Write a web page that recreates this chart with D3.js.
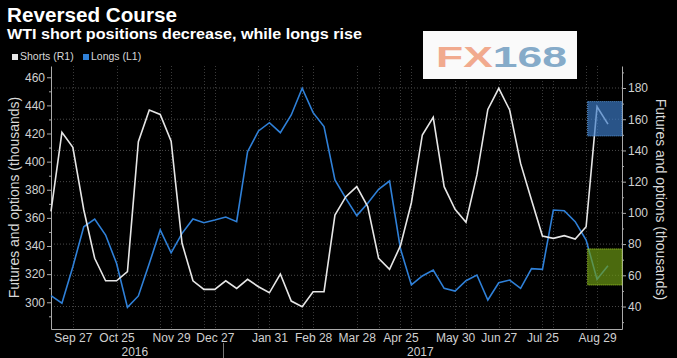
<!DOCTYPE html>
<html><head><meta charset="utf-8">
<script src="https://cdn.jsdelivr.net/npm/d3@7"></script>
<style>
html,body{margin:0;padding:0;background:#000;}
svg{display:block;}
text{font-family:"Liberation Sans",Arial,sans-serif;}
</style></head>
<body>
<svg id="chart" width="677" height="358"></svg>
<script>
// ---- data ----
const startDate = "2016-09-13"; // first weekly observation
const shorts = [101,151.6,142,102,70.9,56.5,56.5,62.3,145.6,165.9,163.1,146,80.5,56.5,51,51,56.5,51.6,57.4,52.7,48.8,60.8,43.5,39.9,49.5,49.5,98.6,110.4,116.8,104,70.9,63.8,79,106.5,149.9,161.2,116.8,102.3,94,124.3,166.3,179.8,165.9,131.7,108.2,85.2,83.7,85.4,83.2,91.1,168,156.9];
const longs = [304.7,299.3,325.3,353.7,359.2,347.8,327.7,296.4,304.5,327.5,351.4,335.2,349,359.2,356.6,358.5,360.6,357.3,407.1,421.8,427.7,420.6,433.2,452.2,434.8,424.9,387,373.9,361.6,370.4,380.3,386.2,338,312.3,318.7,322.9,309.9,308,315.3,319.4,301.6,313.9,315.8,309.9,323.9,323.4,365.6,365.1,357.3,344.3,316.3,326];
const xTickDates = ["2016-09-27","2016-10-25","2016-11-29","2016-12-27","2017-01-31","2017-02-28","2017-03-28","2017-04-25","2017-05-30","2017-06-27","2017-07-25","2017-08-29"];
const xGridDates = ["2016-09-27","2016-10-25","2016-11-22","2016-11-29","2016-12-20","2016-12-27","2017-01-24","2017-01-31","2017-02-21","2017-02-28","2017-03-28","2017-04-11","2017-04-25","2017-05-02","2017-05-30","2017-06-06","2017-06-27","2017-07-04","2017-07-25","2017-08-01","2017-08-22","2017-08-29"];
const yearLabels = [{year:"2016", from:"2016-09-13", to:"2017-01-01"},{year:"2017", from:"2017-01-01", to:"2017-09-14"}];
const leftTicks = [300,320,340,360,380,400,420,440,460];
const leftMinor = [290,310,330,350,370,390,410,430,450];
const rightTicks = [40,60,80,100,120,140,160,180];
const rightMinor = [30,50,70,90,110,130,150,170,190];
const boxShorts = {from:"2017-08-23", to:"2017-09-14", lo:149.3, hi:171.3}; // right-axis units
const boxLongs = {from:"2017-08-23", to:"2017-09-14", lo:53.8, hi:76.9};   // right-axis units
const seriesNames = ["Shorts (R1)","Longs (L1)"];

// ---- layout ----
const parse = d3.utcParse("%Y-%m-%d");
const t0 = parse(startDate);
const dates = shorts.map((_, i) => d3.utcDay.offset(t0, 7*i));
const L = 51, R = 622, T = 66, B = 329;
const x = d3.scaleUtc().domain([parse("2016-09-13"), parse("2017-09-14")]).range([L, R]);
const yL = d3.scaleLinear().domain([281, 468]).range([B, T]);
const yR = d3.scaleLinear().domain([25.6, 194.1]).range([B, T]);

const svg = d3.select("#chart");
svg.append("rect").attr("width",677).attr("height",358).attr("fill","#000");

// titles
svg.append("text").attr("x",7).attr("y",22).attr("fill","#fff").attr("font-size",19.5).attr("font-weight","bold")
  .attr("textLength",170).attr("lengthAdjust","spacingAndGlyphs").text("Reversed Course");
svg.append("text").attr("x",7).attr("y",39).attr("fill","#fff").attr("font-size",14.5).attr("font-weight","bold")
  .attr("textLength",355).attr("lengthAdjust","spacingAndGlyphs").text("WTI short positions decrease, while longs rise");

// legend
const legColors = ["#e6e6e6","#2f80d8"];
const legX = [12, 83];
seriesNames.forEach((n,i)=>{
  svg.append("rect").attr("x",legX[i]).attr("y",54).attr("width",6).attr("height",6).attr("fill",legColors[i]);
  svg.append("text").attr("x",legX[i]+8).attr("y",60).attr("fill","#d8d8d8").attr("font-size",10.5).text(n);
});

// grid
const grid = svg.append("g");
grid.selectAll("line.h").data(rightTicks).enter().append("line")
  .attr("x1",L).attr("x2",R).attr("y1",d=>yR(d)).attr("y2",d=>yR(d))
  .attr("stroke","#4a4a4a").attr("stroke-width",1).attr("stroke-dasharray","1,2");
grid.selectAll("line.v").data(xGridDates).enter().append("line")
  .attr("x1",d=>Math.round(x(parse(d)))+0.5).attr("x2",d=>Math.round(x(parse(d)))+0.5).attr("y1",T).attr("y2",B)
  .attr("stroke","#3a3a3a").attr("stroke-width",1).attr("stroke-dasharray","1,2");

// axes
function styleAxis(g){
  g.select(".domain").attr("stroke","#aaa");
  g.selectAll(".tick line").attr("stroke","#aaa");
  g.selectAll(".tick text").attr("fill","#d0d0d0").attr("font-size",12).attr("font-family","Liberation Sans, Arial, sans-serif");
}
const gl = svg.append("g").attr("transform",`translate(${L},0)`).call(d3.axisLeft(yL).tickValues(leftTicks).tickSize(4).tickSizeOuter(0).tickPadding(2));
styleAxis(gl);
const glm = svg.append("g").attr("transform",`translate(${L},0)`).call(d3.axisLeft(yL).tickValues(leftMinor).tickSize(2).tickFormat(""));
styleAxis(glm); glm.select(".domain").remove();
const gr = svg.append("g").attr("transform",`translate(${R},0)`).call(d3.axisRight(yR).tickValues(rightTicks).tickSize(4).tickSizeOuter(0).tickPadding(2));
styleAxis(gr);
const grm = svg.append("g").attr("transform",`translate(${R},0)`).call(d3.axisRight(yR).tickValues(rightMinor).tickSize(2).tickFormat(""));
styleAxis(grm); grm.select(".domain").remove();
const gx = svg.append("g").attr("transform",`translate(0,${B})`)
  .call(d3.axisBottom(x).tickValues(xTickDates.map(parse)).tickFormat(d3.utcFormat("%b %d")).tickSize(0).tickSizeOuter(0).tickPadding(4));
styleAxis(gx);

// year labels
yearLabels.forEach(y=>{
  svg.append("text").attr("x",(x(parse(y.from))+x(parse(y.to)))/2 - 2).attr("y",356).attr("text-anchor","middle")
    .attr("fill","#d0d0d0").attr("font-size",12).text(y.year);
});
svg.append("line").attr("x1",Math.round(x(parse("2017-01-01")))+0.5).attr("x2",Math.round(x(parse("2017-01-01")))+0.5)
  .attr("y1",343).attr("y2",358).attr("stroke","#777");

// axis titles
svg.append("text").attr("transform",`translate(19,${(T+B)/2}) rotate(-90)`).attr("text-anchor","middle")
  .attr("fill","#d8d8d8").attr("font-size",14).text("Futures and options (thousands)");
svg.append("text").attr("transform",`translate(656,${(T+B)/2+2}) rotate(90)`).attr("text-anchor","middle")
  .attr("fill","#d8d8d8").attr("font-size",14).text("Futures and options (thousands)");

// lines
const lineL = d3.line().x((d,i)=>x(dates[i])).y(d=>yL(d));
const lineR = d3.line().x((d,i)=>x(dates[i])).y(d=>yR(d));
svg.append("path").datum(longs).attr("d",lineL).attr("fill","none").attr("stroke","#2f80d8").attr("stroke-width",1.6);
svg.append("path").datum(shorts).attr("d",lineR).attr("fill","none").attr("stroke","#e6e6e6").attr("stroke-width",1.6);

// highlight boxes
function box(b, fill, stroke){
  svg.append("rect").attr("x",x(parse(b.from))).attr("y",yR(b.hi))
    .attr("width",x(parse(b.to))-x(parse(b.from))).attr("height",yR(b.lo)-yR(b.hi))
    .attr("fill",fill).attr("fill-opacity",0.68).attr("stroke",stroke).attr("stroke-dasharray","1,1").attr("stroke-width",1);
}
box(boxShorts, "#3c7cc8", "#5a9ae0");
box(boxLongs, "#6f9c14", "#a6d42a");

// logo (on top of grid)
svg.append("rect").attr("x",423).attr("y",31).attr("width",154).attr("height",48).attr("fill","#fafafa");
const logo = svg.append("text").attr("x",436).attr("y",67).attr("font-size",30).attr("font-weight","bold")
  .attr("textLength",131).attr("lengthAdjust","spacingAndGlyphs");
logo.append("tspan").attr("fill","#f1aa8e").text("FX");
logo.append("tspan").attr("fill","#86abc9").text("168");
</script>
</body></html>
